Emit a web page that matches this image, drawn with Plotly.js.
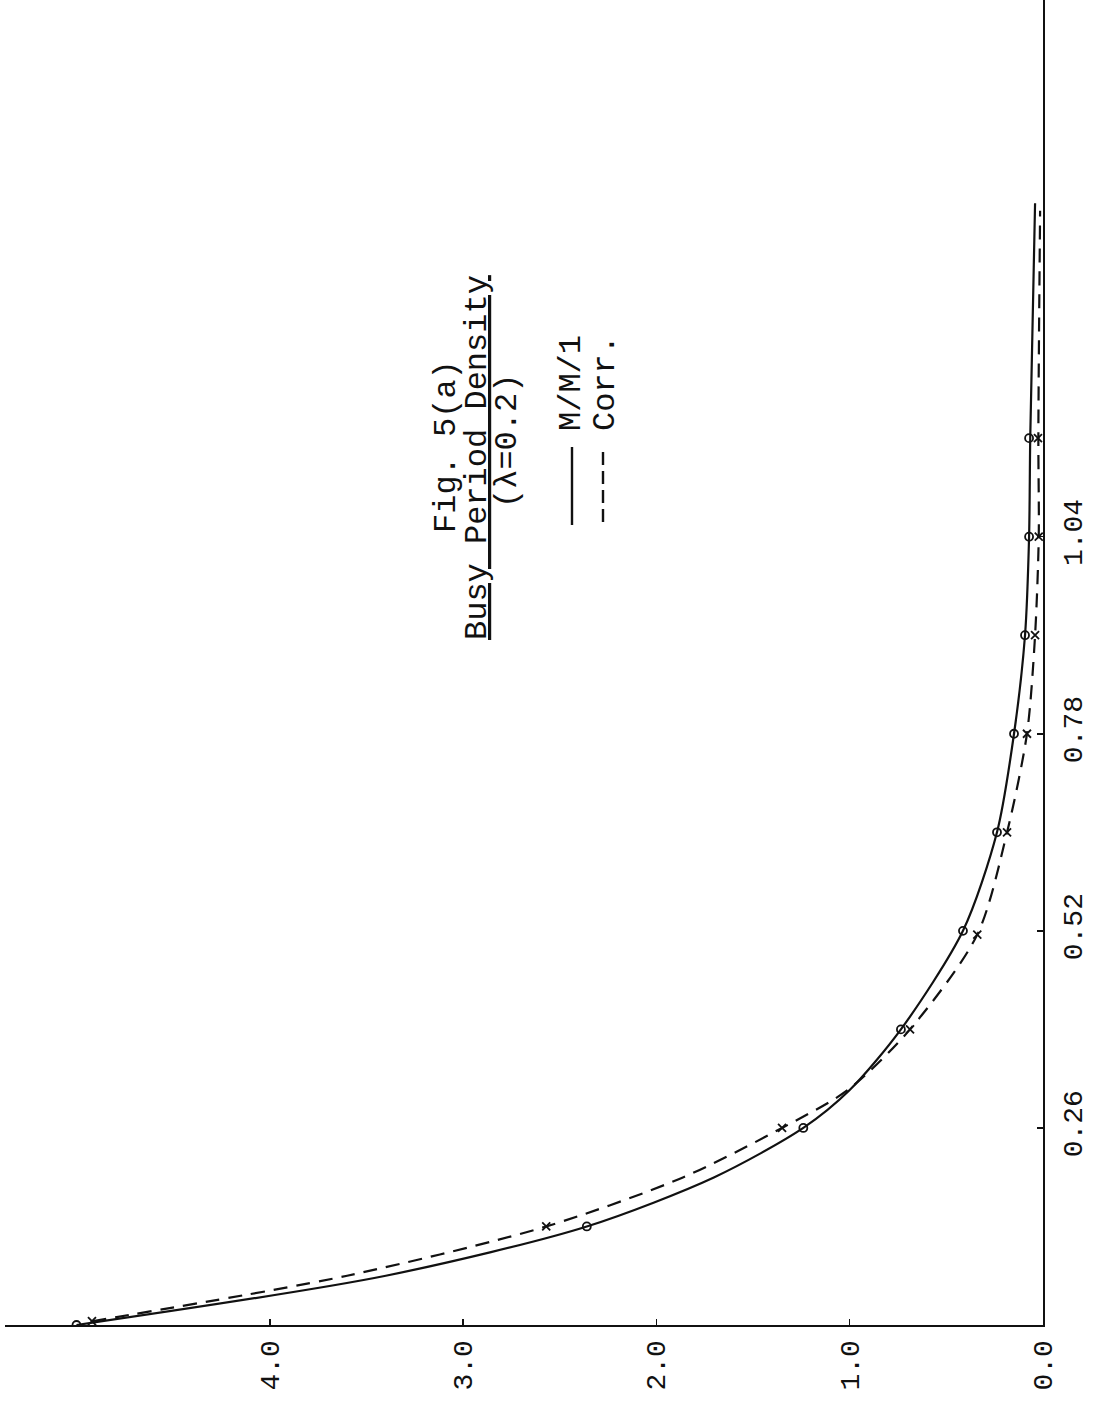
<!DOCTYPE html>
<html>
<head>
<meta charset="utf-8">
<script src="https://cdn.plot.ly/plotly-3.0.1.min.js"></script>
<style>
html,body{margin:0;padding:0;background:#fff;}
#chart{width:1095px;height:1410px;}
</style>
</head>
<body>
<div id="chart"></div>
<script>
// ---- data ----
// time (vertical axis in the rotated figure) and density (horizontal axis)
const timeMarks = [0, 0.13, 0.26, 0.39, 0.52, 0.65, 0.78, 0.91, 1.04, 1.17];
const mm1Marks  = [5.0, 2.36, 1.24, 0.735, 0.414, 0.238, 0.15, 0.093, 0.072, 0.072];
const corrTimeMarks = [0.005, 0.13, 0.26, 0.39, 0.515, 0.65, 0.78, 0.91, 1.04, 1.17];
const corrMarks = [4.92, 2.57, 1.35, 0.688, 0.34, 0.186, 0.083, 0.041, 0.022, 0.026];

const mm1CurveTime = [0, 0.065, 0.13, 0.195, 0.26, 0.31, 0.39, 0.52, 0.65, 0.78, 0.91, 1.04, 1.17, 1.48];
const mm1Curve     = [5.0, 3.4, 2.36, 1.70, 1.24, 1.0, 0.735, 0.414, 0.238, 0.15, 0.093, 0.072, 0.066, 0.041];
const corrCurveTime = [0.005, 0.065, 0.13, 0.195, 0.26, 0.31, 0.39, 0.515, 0.65, 0.78, 0.91, 1.04, 1.17, 1.47];
const corrCurve     = [4.92, 3.6, 2.57, 1.86, 1.35, 1.01, 0.688, 0.34, 0.186, 0.083, 0.041, 0.022, 0.024, 0.015];

const densTicks = [0, 1, 2, 3, 4];
const densTickText = ['0.0', '1.0', '2.0', '3.0', '4.0'];
const timeTicks = [0.26, 0.52, 0.78, 1.04];
const timeTickText = ['0.26', '0.52', '0.78', '1.04'];

const titleLines = ['Fig. 5(a)', 'Busy Period Density', '(\u03bb=0.2)'];
const seriesNames = ['M/M/1', 'Corr.'];

// ---- layout helpers (pixel -> paper) ----
const W = 1095, H = 1410;
const M = {l: 5, r: 52, t: 0, b: 85};
const PW = W - M.l - M.r, PH = H - M.t - M.b;
const px = x => (x - M.l) / PW;
const py = y => (H - M.b - y) / PH;
const FONT = '"Liberation Mono", "DejaVu Sans Mono", monospace';

const traces = [
  {x: mm1Curve, y: mm1CurveTime, mode: 'lines', line: {color: '#111', width: 2.2, shape: 'spline', smoothing: 0.8}, hoverinfo: 'skip', showlegend: false},
  {x: corrCurve, y: corrCurveTime, mode: 'lines', line: {color: '#111', width: 2.2, dash: '14px,9px', shape: 'spline', smoothing: 0.8}, hoverinfo: 'skip', showlegend: false},
  {x: mm1Marks, y: timeMarks, mode: 'markers', name: seriesNames[0], marker: {symbol: 'circle-open', size: 8, color: '#111', line: {width: 1.8, color: '#111'}}, showlegend: false},
  {x: corrMarks, y: corrTimeMarks, mode: 'markers', name: seriesNames[1], marker: {symbol: 'x-thin-open', size: 8, color: '#111', line: {width: 1.8, color: '#111'}}, showlegend: false}
];

const annotations = [
  {text: titleLines[0], x: px(446), y: py(447), textangle: -90},
  {text: '<u>' + titleLines[1] + '</u>', x: px(478), y: py(458), textangle: -90},
  {text: titleLines[2], x: px(507), y: py(441), textangle: -90},
  {text: seriesNames[0], x: px(571), y: py(383), textangle: -90},
  {text: seriesNames[1], x: px(605), y: py(383), textangle: -90}
].map(a => Object.assign({xref: 'paper', yref: 'paper', showarrow: false, xanchor: 'center', yanchor: 'middle', font: {family: FONT, size: 32, color: '#111'}}, a));

const shapes = [
  {type: 'line', xref: 'paper', yref: 'paper', x0: px(572), x1: px(572), y0: py(447), y1: py(525), line: {color: '#111', width: 2.4}},
  {type: 'line', xref: 'paper', yref: 'paper', x0: px(603), x1: px(603), y0: py(452), y1: py(523), line: {color: '#111', width: 2.4, dash: '13px,6px'}}
];

const layout = {
  width: W, height: H,
  margin: M,
  paper_bgcolor: '#fff', plot_bgcolor: '#fff',
  showlegend: false,
  font: {family: FONT, size: 28, color: '#111'},
  xaxis: {
    range: [(1043 - 5) / 193.3, 0],
    tickvals: densTicks, ticktext: densTickText, tickangle: -90,
    ticks: 'inside', ticklen: 6, tickwidth: 1.5, tickcolor: '#111',
    showline: true, linecolor: '#111', linewidth: 2,
    showgrid: false, zeroline: false,
    ticklabelstandoff: 2,
    tickfont: {family: FONT, size: 28, color: '#111'}
  },
  yaxis: {
    range: [0, 1325 / 758],
    side: 'right',
    tickvals: timeTicks, ticktext: timeTickText, tickangle: -90,
    ticks: 'inside', ticklen: 6, tickwidth: 1.5, tickcolor: '#111',
    showline: true, linecolor: '#111', linewidth: 2.2,
    showgrid: false, zeroline: false,
    ticklabelstandoff: 3,
    tickfont: {family: FONT, size: 28, color: '#111'}
  },
  annotations: annotations,
  shapes: shapes
};

Plotly.newPlot('chart', traces, layout, {displayModeBar: false, staticPlot: true});
</script>
</body>
</html>
